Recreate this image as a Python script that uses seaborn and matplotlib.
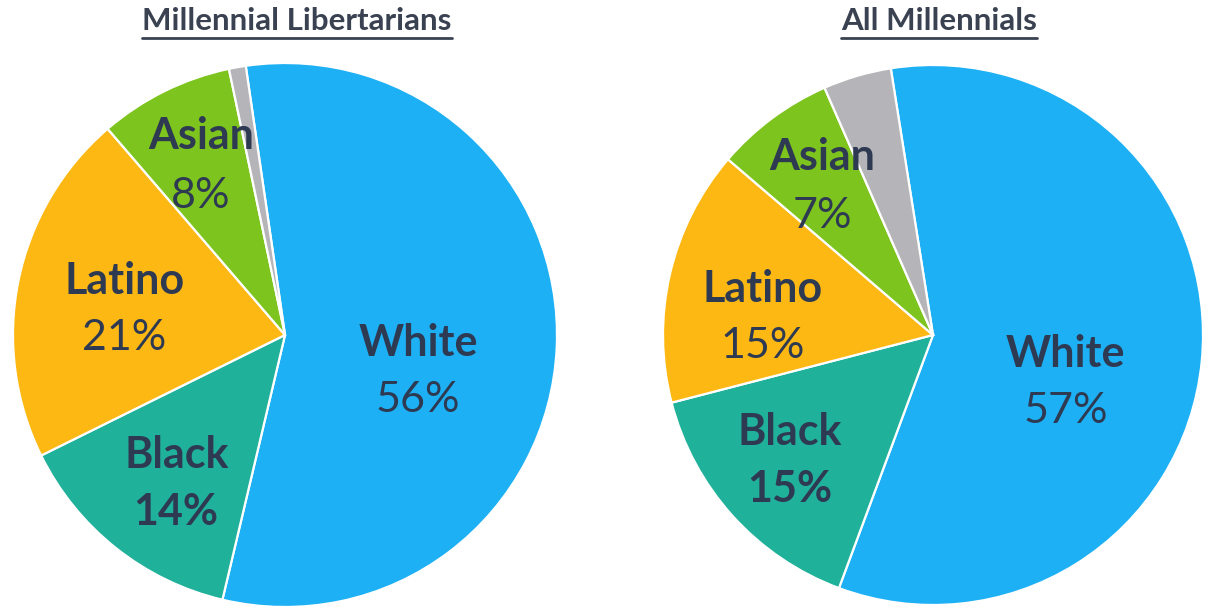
import matplotlib
matplotlib.use("Agg")
import matplotlib.pyplot as plt
import seaborn as sns
from matplotlib.lines import Line2D

sns.set_theme(style="white")
plt.rcParams['font.family'] = ['Lato', 'DejaVu Sans']

categories = ["White", "Black", "Latino", "Asian", "Other"]
libertarian_values = [56, 14, 21, 8, 1]
millennial_values = [57, 15, 15, 7, 4]
titles = ["Millennial Libertarians", "All Millennials"]

colors = ["#1EB0F4", "#20B19A", "#FDB814", "#7DC41E", "#B5B5B9"]
text_color = "#2E3A52"

W, H = 1209, 614
fig = plt.figure(figsize=(W / 100, H / 100), dpi=100)

# (center x px, center y px, radius px, start angle)
geoms = [(285, 335, 272, 98.3), (933, 335, 270, 99.0)]
# label positions in pie-radius units (x, name y, pct y, bold pct)
label_pos = [
    {"White": (0.49, -0.03, -0.24, False), "Black": (-0.40, -0.44, -0.65, True),
     "Latino": (-0.59, 0.20, -0.01, False), "Asian": (-0.31, 0.73, 0.51, False)},
    {"White": (0.49, -0.07, -0.28, False), "Black": (-0.53, -0.36, -0.57, True),
     "Latino": (-0.63, 0.17, -0.04, False), "Asian": (-0.41, 0.66, 0.44, False)},
]
title_x = [297, 939]

for i, vals in enumerate([libertarian_values, millennial_values]):
    cx, cy, r, sa = geoms[i]
    ax = fig.add_axes([(cx - r) / W, (H - cy - r) / H, 2 * r / W, 2 * r / H])
    ax.pie(vals, colors=colors, startangle=sa, counterclock=False,
           radius=1.0, wedgeprops=dict(edgecolor="white", linewidth=1.6))
    ax.set_xlim(-1.0, 1.0)
    ax.set_ylim(-1.0, 1.0)
    ax.set_aspect("equal")
    ax.axis("off")
    for cat, v in zip(categories, vals):
        if cat not in label_pos[i]:
            continue
        x, y1, y2, bold_pct = label_pos[i][cat]
        ax.text(x, y1, cat, ha="center", va="center", fontsize=31,
                fontweight="bold", color=text_color)
        ax.text(x, y2, f"{v}%", ha="center", va="center", fontsize=31,
                fontweight="bold" if bold_pct else "normal", color=text_color)
    fig.text(title_x[i] / W, 1 - 21 / H, titles[i], ha="center", va="center",
             fontsize=22.5, fontweight="bold", color="#3A4252")

fig.canvas.draw()
renderer = fig.canvas.get_renderer()
for t in fig.texts:
    bb = t.get_window_extent(renderer)
    y = (H - 37.5) / H
    fig.add_artist(Line2D([bb.x0 / W, bb.x1 / W], [y, y], transform=fig.transFigure,
                          color="#3A4252", linewidth=2.0))

fig.savefig("out.png", dpi=100, facecolor="white")
